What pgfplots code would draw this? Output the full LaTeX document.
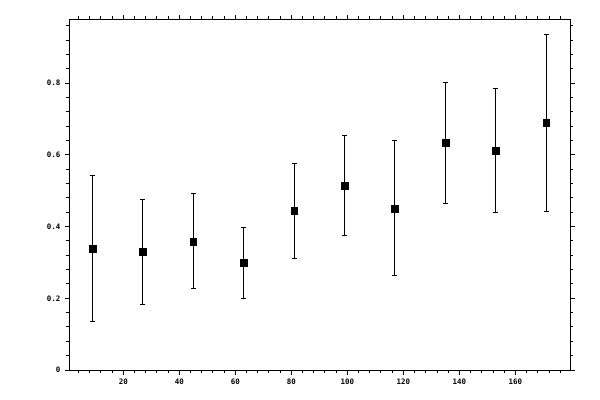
\documentclass[border=0pt]{standalone}
\usepackage{fontspec}
\setmainfont{DejaVu Sans Mono}
\usepackage{pgfplots}
\pgfplotsset{compat=1.18}
\begin{document}
\begin{tikzpicture}
\useasboundingbox (0,0) rectangle (600bp,400bp);
\begin{axis}[
    at={(69.3bp,30bp)}, anchor=south west,
    width=501bp, height=350.7bp, scale only axis,
    xmin=0.7, xmax=179.6,
    ymin=0, ymax=0.978,
    xtick={20,40,...,160},
    ytick={0,0.2,0.4,0.6,0.8},
    minor xtick={4,8,12,16,24,28,32,36,44,48,52,56,64,68,72,76,84,88,92,96,104,108,112,116,124,128,132,136,144,148,152,156,164,168,172,176},
    minor ytick={0.04,0.08,0.12,0.16,0.24,0.28,0.32,0.36,0.44,0.48,0.52,0.56,0.64,0.68,0.72,0.76,0.84,0.88,0.92,0.96},
    tick align=outside,
    major tick length=4.5bp,
    minor tick length=3bp,
    axis line style={line width=1bp},
    every tick/.style={black, line width=1bp},
    /pgf/number format/assume math mode=true,
    tick label style={font=\fontsize{7.5}{8}\selectfont\bfseries},
    xticklabel style={yshift=-1bp},
    yticklabel style={xshift=-1bp},
]
\addplot[
    only marks,
    mark=square*,
    mark size=3.3bp,
    black,
    error bars/.cd,
      y dir=both, y explicit,
      error bar style={line width=1bp, black},
      error mark options={rotate=90, mark size=2.5bp, line width=1bp, black},
    ]
    coordinates {
    (9,0.338)   += (0,0.204) -= (0,0.204)
    (27,0.330)  += (0,0.145) -= (0,0.146)
    (45,0.358)  += (0,0.134) -= (0,0.131)
    (63,0.299)  += (0,0.098) -= (0,0.100)
    (81,0.444)  += (0,0.132) -= (0,0.133)
    (99,0.514)  += (0,0.140) -= (0,0.140)
    (117,0.450) += (0,0.190) -= (0,0.187)
    (135,0.634) += (0,0.168) -= (0,0.170)
    (153,0.612) += (0,0.173) -= (0,0.173)
    (171,0.690) += (0,0.246) -= (0,0.249)
    };
\end{axis}
\end{tikzpicture}
\end{document}
